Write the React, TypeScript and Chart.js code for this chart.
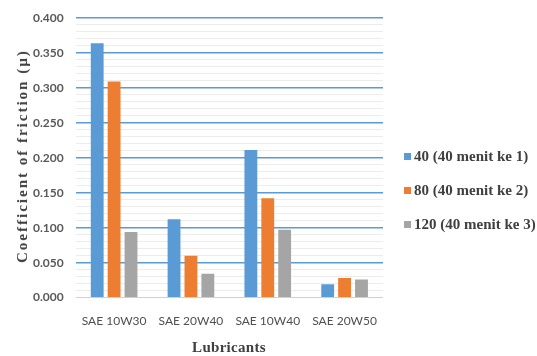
import React, { useEffect, useRef } from "react";
import { Chart, registerables } from "chart.js";

Chart.register(...registerables);

const lubricants = ["SAE 10W30", "SAE 20W40", "SAE 10W40", "SAE 20W50"];
const run1 = [0.364, 0.112, 0.211, 0.019];
const run2 = [0.309, 0.060, 0.142, 0.028];
const run3 = [0.094, 0.034, 0.097, 0.026];
const seriesNames = ["40 (40 menit ke 1)", "80 (40 menit ke 2)", "120 (40 menit ke 3)"];
const seriesColors = ["#5B9BD5", "#ED7D31", "#A5A5A5"];

const serif = "'Liberation Serif', 'Times New Roman', serif";
const textColor = "#3f3f3f";

export default function App() {
  const canvasRef = useRef<HTMLCanvasElement | null>(null);

  useEffect(() => {
    document.body.style.margin = "0";
    const ctx = canvasRef.current;
    if (!ctx) return;
    const isMajor = (v: number) => Math.round(v * 100) % 5 === 0;
    const chart = new Chart(ctx, {
      type: "bar",
      data: {
        labels: lubricants,
        datasets: [run1, run2, run3].map((d, i) => ({
          label: seriesNames[i],
          data: d,
          backgroundColor: seriesColors[i],
          borderWidth: 0,
          categoryPercentage: 0.66,
          barPercentage: 0.76,
        })),
      },
      options: {
        animation: false,
        responsive: false,
        layout: { padding: { top: 0, right: 154, bottom: 20, left: 21 } },
        plugins: {
          tooltip: { enabled: false },
          legend: { display: false },
        },
        scales: {
          x: {
            grid: { display: false },
            border: { display: false },
            ticks: {
              color: "#505050",
              font: { family: "Lato, sans-serif", size: 12 },
              padding: 8,
            },
          },
          y: {
            min: 0,
            max: 0.4,
            border: { display: false },
            grid: {
              color: (c: any) => {
                const v = c.tick ? c.tick.value : 0;
                if (Math.abs(v) < 1e-9) return "#d0d0d0";
                return isMajor(v) ? "#5B9BD5" : "#ececec";
              },
              lineWidth: (c: any) => {
                const v = c.tick ? c.tick.value : 0;
                return isMajor(v) && Math.abs(v) > 1e-9 ? 1.5 : 1;
              },
              drawTicks: false,
            },
            ticks: {
              stepSize: 0.01,
              autoSkip: false,
              padding: 12,
              color: "#595959",
              font: { family: "Lato, sans-serif", size: 12, weight: "bold", lineHeight: 1 },
              callback: (v: any) => (isMajor(Number(v)) ? Number(v).toFixed(3) : ""),
            },
          },
        },
      },
    });
    return () => chart.destroy();
  }, []);

  const legendTop = [156, 190, 224];

  return (
    <div style={{ position: "relative", width: 537, height: 356 }}>
      <canvas ref={canvasRef} width={537} height={356} style={{ display: "block" }} />
      <div
        style={{
          position: "absolute",
          left: 22,
          top: 156,
          transform: "translate(-50%, -50%) rotate(-90deg)",
          whiteSpace: "nowrap",
          fontFamily: serif,
          fontWeight: "bold",
          fontSize: 15,
          letterSpacing: "2px",
          color: textColor,
          lineHeight: "16px",
        }}
      >
        Coefficient of friction (µ)
      </div>
      <div
        style={{
          position: "absolute",
          left: 229,
          top: 347,
          transform: "translate(-50%, -50%)",
          whiteSpace: "nowrap",
          fontFamily: serif,
          fontWeight: "bold",
          fontSize: 15,
          letterSpacing: "0.3px",
          color: textColor,
          lineHeight: "16px",
        }}
      >
        Lubricants
      </div>
      {seriesNames.map((name, i) => (
        <div
          key={name}
          style={{
            position: "absolute",
            left: 404,
            top: legendTop[i] - 9,
            height: 18,
            display: "flex",
            alignItems: "center",
            whiteSpace: "nowrap",
            fontFamily: serif,
            fontWeight: "bold",
            fontSize: 15,
            color: textColor,
          }}
        >
          <span
            style={{
              display: "inline-block",
              width: 7,
              height: 7,
              background: seriesColors[i],
              marginRight: 3,
            }}
          />
          {name}
        </div>
      ))}
    </div>
  );
}
